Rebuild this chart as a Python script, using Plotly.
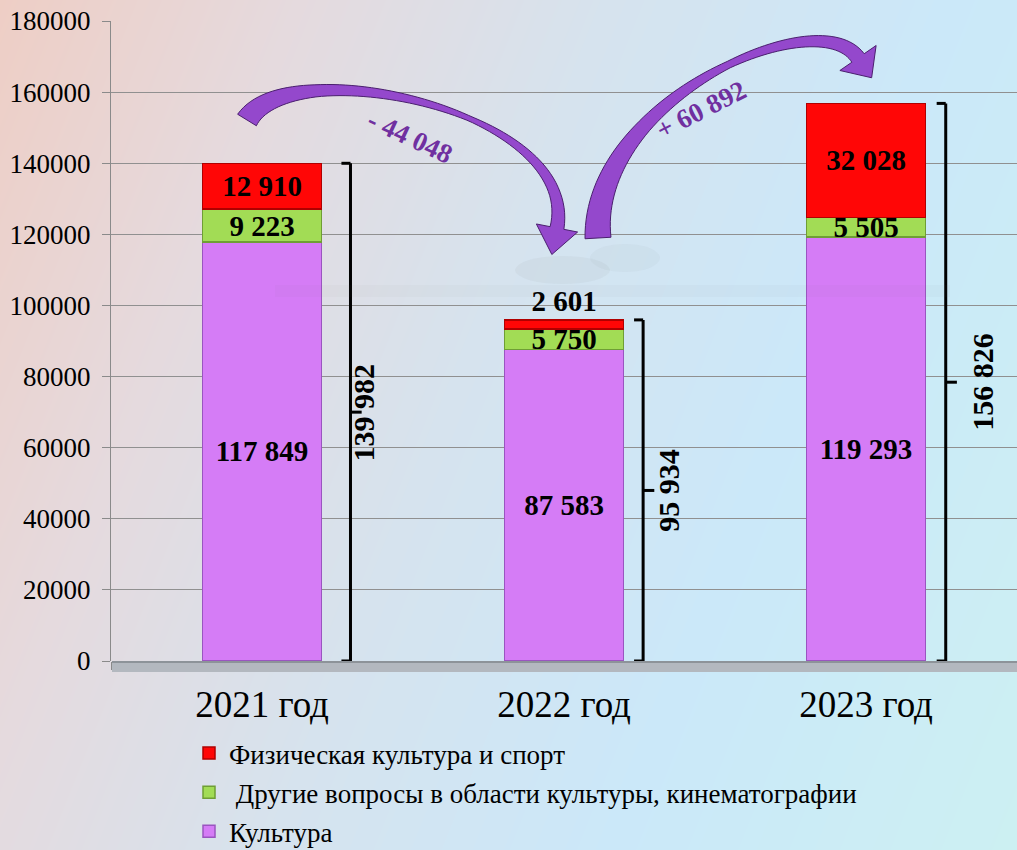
import numpy as np
import plotly.graph_objects as go

# ---------------- data ----------------
years = ["2021 год", "2022 год", "2023 год"]
kultura = [117849, 87583, 119293]
drugie = [9223, 5750, 5505]
sport = [12910, 2601, 32028]
totals = [139982, 95934, 156826]
changes = ["- 44 048", "+ 60 892"]
series_names = [
    "Культура",
    " Другие вопросы в области культуры, кинематографии",
    "Физическая культура и спорт",
]
ytick_vals = [0, 20000, 40000, 60000, 80000, 100000, 120000, 140000, 160000, 180000]

# ---------------- style ----------------
W, H = 1017, 850
SERIF = "Liberation Serif, Times New Roman, serif"
X0, YB, YT = 111, 661, 21  # plot area pixel edges

def fmt(v):
    return f"{v:,}".replace(",", " ")

fig = go.Figure()

# background gradient (styling only)
gx = np.linspace(0, 1, 11)
gy = np.linspace(0, 1, 11)
GX, GY = np.meshgrid(gx, gy)
gz = 0.75 * GX + 0.25 * (1 - GY)
fig.add_trace(go.Heatmap(
    x=gx, y=gy, z=gz, zsmooth="best", showscale=False, hoverinfo="skip",
    zmin=0, zmax=1,
    colorscale=[[0, "rgb(238,206,197)"], [0.22, "rgb(229,218,222)"],
                [0.45, "rgb(214,227,238)"], [0.7, "rgb(203,232,249)"],
                [1, "rgb(204,240,242)"]],
    xaxis="x", yaxis="y", showlegend=False,
))

def add_bar(vals, name, color, edge, textpos, rank):
    fig.add_trace(go.Bar(
        x=years, y=vals, name=name, xaxis="x2", yaxis="y2",
        marker=dict(color=color, line=dict(color=edge, width=1.5)),
        width=0.395,
        texttemplate="%{y:,}", textposition=textpos, textangle=0,
        constraintext="none", insidetextanchor="middle", cliponaxis=False,
        textfont=dict(family=SERIF, size=29, color="black", weight="bold"),
        outsidetextfont=dict(family=SERIF, size=29, color="black", weight="bold"),
        legendgroup=name, legendrank=rank, hoverinfo="skip",
    ))

add_bar(kultura, series_names[0], "#d57cf6", "#9a55c0", "inside", 3)
add_bar(drugie, series_names[1], "#a2dc55", "#6f9e35", "inside", 2)
add_bar(sport, series_names[2], "#ff0606", "#b00000", ["inside", "outside", "inside"], 1)

shapes = []

# brackets with totals
b_off = [0.293, 0.262, 0.264]
l_off = [0.336, 0.345, 0.386]
annotations = []
for i, tot in enumerate(totals):
    xb = i + b_off[i]
    ln = dict(color="black", width=3)
    shapes.append(dict(type="line", xref="x2", yref="y2", x0=xb, x1=xb, y0=0, y1=tot, line=ln))
    shapes.append(dict(type="line", xref="x2", yref="y2", x0=xb - 0.03, x1=xb, y0=tot, y1=tot, line=ln))
    shapes.append(dict(type="line", xref="x2", yref="y2", x0=xb - 0.03, x1=xb, y0=0, y1=0, line=ln))
    shapes.append(dict(type="line", xref="x2", yref="y2", x0=xb, x1=xb + 0.037, y0=tot / 2, y1=tot / 2, line=ln))
    annotations.append(dict(
        xref="x2", yref="y2", x=i + l_off[i], y=tot / 2, text=fmt(tot), textangle=-90,
        xanchor="center", yanchor="middle",
        showarrow=False, font=dict(family=SERIF, size=30, color="black", weight="bold"),
    ))

# floor under bars
shapes.append(dict(type="rect", xref="paper", yref="paper", layer="above",
                   x0=(X0 + 1) / W, x1=1, y0=1 - 672 / H, y1=1 - YB / H,
                   fillcolor="#b3b8bf", line=dict(width=0)))
shapes.append(dict(type="line", xref="paper", yref="paper", layer="above",
                   x0=(X0 + 1) / W, x1=1, y0=1 - 662 / H, y1=1 - 662 / H,
                   line=dict(color="#8d9399", width=2)))

# faint shadows
shapes.append(dict(type="circle", xref="paper", yref="paper", layer="above",
                   x0=515 / W, x1=610 / W, y0=1 - 284 / H, y1=1 - 256 / H,
                   fillcolor="rgba(90,90,90,0.05)", line=dict(width=0)))
shapes.append(dict(type="circle", xref="paper", yref="paper", layer="above",
                   x0=590 / W, x1=660 / W, y0=1 - 272 / H, y1=1 - 244 / H,
                   fillcolor="rgba(90,90,90,0.04)", line=dict(width=0)))
shapes.append(dict(type="rect", xref="paper", yref="paper", layer="above",
                   x0=275 / W, x1=950 / W, y0=1 - 297 / H, y1=1 - 285 / H,
                   fillcolor="rgba(110,110,120,0.035)", line=dict(width=0)))


def arrow_path(P, wt, ww, hw, hl, n=70):
    P = np.array(P, float)
    t = np.linspace(0, 1, n)
    B = (((1 - t) ** 3)[:, None] * P[0] + (3 * (1 - t) ** 2 * t)[:, None] * P[1]
         + (3 * (1 - t) * t ** 2)[:, None] * P[2] + (t ** 3)[:, None] * P[3])
    D = ((3 * (1 - t) ** 2)[:, None] * (P[1] - P[0]) + (6 * (1 - t) * t)[:, None] * (P[2] - P[1])
         + (3 * t ** 2)[:, None] * (P[3] - P[2]))
    D /= np.linalg.norm(D, axis=1)[:, None]
    N = np.stack([-D[:, 1], D[:, 0]], axis=1)
    w = np.interp(t, wt, ww) / 2
    left = B + N * w[:, None]
    right = B - N * w[:, None]
    end, d, nrm = B[-1], D[-1], N[-1]
    tip = end + d * hl
    b1 = end + nrm * hw
    b2 = end - nrm * hw
    pts = list(left) + [b1, tip, b2] + list(right[::-1])
    return "M " + " L ".join(f"{x / W:.5f},{1 - y / H:.5f}" for x, y in pts) + " Z"


arrow_style = dict(type="path", xref="paper", yref="paper", layer="above",
                   fillcolor="#9448cc", line=dict(color="#4a1f6e", width=1))
shapes.append(dict(**arrow_style, path=arrow_path(
    [(247, 120), (290, 50), (580, 110), (557, 228)],
    [0, 0.25, 0.6, 0.9, 1], [22, 12, 5, 11, 14], 21, 27)))
shapes.append(dict(**arrow_style, path=arrow_path(
    [(598, 238), (590, 100), (818, 0), (858, 58)],
    [0, 0.3, 0.55, 0.85, 1], [26, 14, 7, 12, 15], 22, 24)))

annotations.append(dict(xref="paper", yref="paper", x=410 / W, y=1 - 137 / H, text=changes[0],
                        textangle=25, showarrow=False, xanchor="center", yanchor="middle",
                        font=dict(family=SERIF, size=27, color="#7030a0", weight="bold")))
annotations.append(dict(xref="paper", yref="paper", x=701 / W, y=1 - 110 / H, text=changes[1],
                        textangle=-27, showarrow=False, xanchor="center", yanchor="middle",
                        font=dict(family=SERIF, size=27, color="#7030a0", weight="bold")))

fig.update_layout(
    width=W, height=H, margin=dict(l=0, r=0, t=0, b=0, autoexpand=False),
    paper_bgcolor="#dde3ea", plot_bgcolor="rgba(0,0,0,0)",
    barmode="stack", separators=". ",
    showlegend=True,
    xaxis=dict(domain=[0, 1], range=[0, 1], visible=False, fixedrange=True, automargin=False),
    yaxis=dict(domain=[0, 1], range=[0, 1], visible=False, fixedrange=True, automargin=False),
    xaxis2=dict(domain=[X0 / W, 1], anchor="y2", type="category", range=[-0.5, 2.5],
                automargin=False,
                showgrid=False, showline=False, ticks="outside", tickson="boundaries",
                ticklen=8, tickcolor="#8a8a8a", ticklabelstandoff=18,
                tickfont=dict(family=SERIF, size=37, color="black")),
    yaxis2=dict(domain=[1 - YB / H, 1 - YT / H], anchor="x2", range=[0, 180000],
                automargin=False,
                tickvals=ytick_vals, tickformat="d", showgrid=True, gridcolor="#909090",
                gridwidth=1, zeroline=False, showline=True, linecolor="#8a8a8a",
                ticks="outside", ticklen=8, tickcolor="#8a8a8a", ticklabelstandoff=6,
                tickfont=dict(family=SERIF, size=27, color="black")),
    legend=dict(x=189 / W, y=1 - 729 / H, xanchor="left", yanchor="top",
                orientation="v", traceorder="grouped", tracegroupgap=1,
                bgcolor="rgba(0,0,0,0)", font=dict(family=SERIF, size=27, color="black"),
                itemwidth=30),
    shapes=shapes, annotations=annotations,
)

fig.write_html("out.html", config={"displayModeBar": False},
               post_script="document.body.style.margin='0';")
